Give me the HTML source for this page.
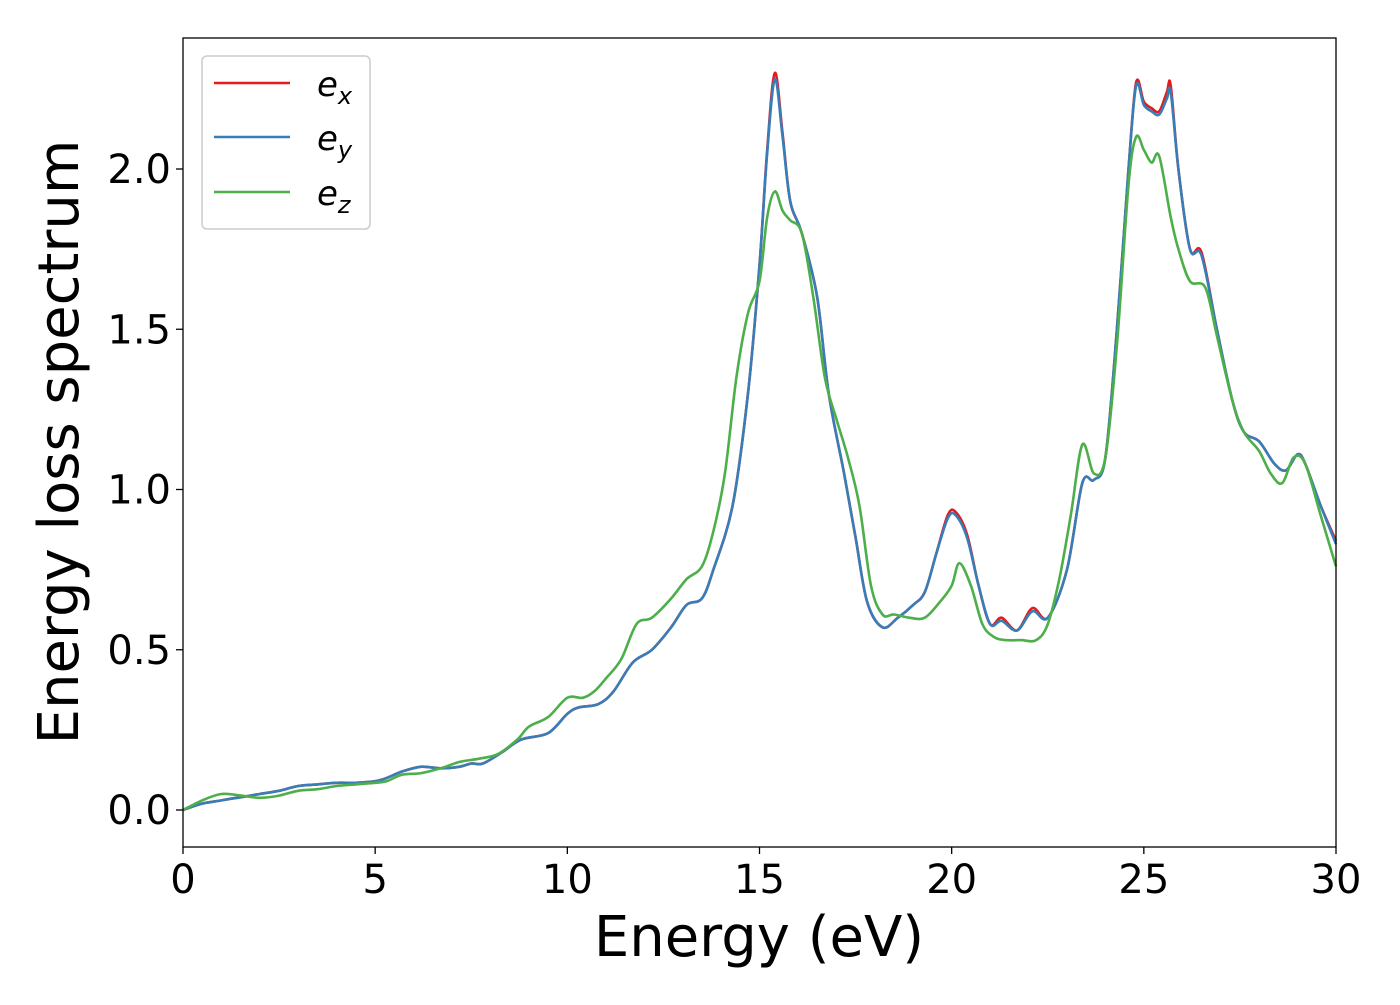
<!DOCTYPE html>
<html><head><meta charset="utf-8"><style>
body{margin:0;background:#fff;}
svg text{font-family:"DejaVu Sans","Liberation Sans",sans-serif;}
</style></head><body>
<svg id="chart" width="1400" height="1000" xmlns="http://www.w3.org/2000/svg">
<rect width="1400" height="1000" fill="#fff"/>
<g id="plot"></g>
<g id="axes"></g>
<text x="759" y="956" font-size="56" text-anchor="middle">Energy (eV)</text>
<text transform="translate(78,442) rotate(-90)" font-size="56" text-anchor="middle">Energy loss spectrum</text>
<g>
<rect x="202" y="56" width="168" height="173" rx="5" fill="#fff" stroke="#ccc" stroke-width="1.5"/>
<line x1="214" y1="83" x2="290" y2="83" stroke="#e41a1c" stroke-width="2.5"/>
<line x1="214" y1="137" x2="290" y2="137" stroke="#377eb8" stroke-width="2.5"/>
<line x1="214" y1="192" x2="290" y2="192" stroke="#4daf4a" stroke-width="2.5"/>
<text x="317" y="96" font-size="34" font-style="italic">e<tspan font-size="24" dy="8">x</tspan></text>
<text x="317" y="150" font-size="34" font-style="italic">e<tspan font-size="24" dy="8">y</tspan></text>
<text x="317" y="205" font-size="34" font-style="italic">e<tspan font-size="24" dy="8">z</tspan></text>
</g>
</svg>
<script>
const energyEx=[0,0.5,1,1.5,2,2.5,3,3.5,4,4.5,5,5.3,5.7,6.2,6.7,7.2,7.5,7.8,8.3,8.8,9.5,10,10.3,10.8,11.2,11.7,12.2,12.7,13.1,13.5,13.8,14.3,14.7,15,15.2,15.4,15.6,15.8,16.1,16.5,16.8,17.2,17.5,17.8,18.2,18.6,19,19.3,19.6,19.9,20.1,20.4,20.7,21,21.3,21.7,22.1,22.5,23,23.4,23.7,24,24.3,24.6,24.8,25,25.2,25.4,25.6,25.7,25.9,26.2,26.5,26.9,27.3,27.6,28,28.4,28.7,29,29.2,29.6,30];
const valuesEy=[0,0.02,0.03,0.04,0.05,0.06,0.075,0.08,0.085,0.085,0.09,0.1,0.12,0.135,0.13,0.135,0.145,0.145,0.18,0.22,0.24,0.3,0.32,0.33,0.37,0.46,0.5,0.57,0.64,0.66,0.75,0.95,1.3,1.7,2.05,2.28,2.1,1.9,1.8,1.6,1.3,1.05,0.85,0.65,0.57,0.6,0.64,0.68,0.8,0.91,0.92,0.85,0.7,0.58,0.59,0.56,0.62,0.6,0.75,1.02,1.03,1.1,1.5,2.0,2.26,2.2,2.18,2.17,2.22,2.24,2.0,1.75,1.73,1.5,1.28,1.18,1.15,1.08,1.06,1.11,1.08,0.95,0.83];
const valuesEx=[0,0.02,0.03,0.04,0.05,0.06,0.075,0.08,0.085,0.085,0.09,0.1,0.12,0.135,0.13,0.135,0.145,0.145,0.18,0.22,0.24,0.3,0.32,0.33,0.37,0.46,0.5,0.57,0.64,0.66,0.75,0.95,1.3,1.7,2.06,2.3,2.11,1.9,1.8,1.6,1.3,1.05,0.85,0.65,0.57,0.6,0.64,0.68,0.8,0.92,0.93,0.86,0.7,0.58,0.6,0.56,0.63,0.6,0.75,1.02,1.03,1.1,1.5,2.0,2.27,2.21,2.19,2.18,2.24,2.26,2.0,1.75,1.74,1.5,1.28,1.18,1.15,1.08,1.06,1.11,1.08,0.95,0.84];
const energyEz=[0,0.5,1,1.5,2,2.5,3,3.5,4,4.5,5,5.3,5.7,6.2,6.7,7.2,7.7,8.2,8.7,9,9.5,10,10.4,10.7,11,11.4,11.8,12.2,12.7,13.1,13.5,13.8,14.1,14.4,14.7,15,15.2,15.4,15.6,15.8,16.1,16.4,16.7,17,17.3,17.6,17.9,18.2,18.5,18.9,19.3,19.7,20,20.2,20.5,20.8,21.1,21.4,21.8,22.2,22.5,22.8,23.1,23.4,23.7,24,24.3,24.6,24.8,25,25.2,25.4,25.7,25.9,26.2,26.6,26.9,27.3,27.6,28,28.3,28.6,28.9,29.2,29.6,30];
const valuesEz=[0,0.03,0.05,0.045,0.038,0.045,0.06,0.065,0.075,0.08,0.085,0.09,0.11,0.115,0.13,0.15,0.16,0.175,0.22,0.26,0.29,0.35,0.35,0.37,0.41,0.47,0.58,0.6,0.66,0.72,0.76,0.87,1.05,1.35,1.55,1.65,1.85,1.93,1.87,1.84,1.8,1.6,1.35,1.22,1.1,0.95,0.7,0.61,0.61,0.6,0.6,0.65,0.7,0.77,0.7,0.58,0.54,0.53,0.53,0.53,0.58,0.72,0.92,1.14,1.05,1.1,1.45,1.95,2.1,2.06,2.02,2.04,1.85,1.75,1.65,1.63,1.48,1.28,1.18,1.12,1.05,1.02,1.1,1.08,0.92,0.76];
const xTicks=[0,5,10,15,20,25,30];
const yTicks=[0,0.5,1,1.5,2];
const yTickLabels=["0.0","0.5","1.0","1.5","2.0"];
const X0=183,X1=1336,Y0=847,Y1=38;
const xs=v=>X0+(v-0)/30*(X1-X0);
const ys=v=>810-v*320.5;
const NS="http://www.w3.org/2000/svg";
function path(xv,yv){
  const p=xv.map((x,i)=>[xs(x),ys(yv[i])]);
  let d="M"+p[0][0].toFixed(1)+","+p[0][1].toFixed(1);
  for(let i=0;i<p.length-1;i++){
    const a=p[Math.max(0,i-1)],b=p[i],c=p[i+1],e=p[Math.min(p.length-1,i+2)];
    const c1=[b[0]+(c[0]-a[0])/6,b[1]+(c[1]-a[1])/6],c2=[c[0]-(e[0]-b[0])/6,c[1]-(e[1]-b[1])/6];
    d+=`C${c1[0].toFixed(1)},${c1[1].toFixed(1)} ${c2[0].toFixed(1)},${c2[1].toFixed(1)} ${c[0].toFixed(1)},${c[1].toFixed(1)}`;
  }
  return d;
}
const plot=document.getElementById('plot');
const series=[[energyEx,valuesEx,'#e41a1c','line-ex'],[energyEx,valuesEy,'#377eb8','line-ey'],[energyEz,valuesEz,'#4daf4a','line-ez']];
series.forEach(s=>{
  const el=document.createElementNS(NS,'path');
  el.setAttribute('d',path(s[0],s[1]));
  el.setAttribute('fill','none');el.setAttribute('stroke',s[2]);el.setAttribute('stroke-width','2.6');
  
  
  plot.appendChild(el);
});
const axes=document.getElementById('axes');
const frame=document.createElementNS(NS,'rect');
frame.setAttribute('x',X0);frame.setAttribute('y',Y1);frame.setAttribute('width',X1-X0);frame.setAttribute('height',Y0-Y1);
frame.setAttribute('fill','none');frame.setAttribute('stroke','#000');frame.setAttribute('stroke-width','1.3');


axes.appendChild(frame);
xTicks.forEach(t=>{
  const l=document.createElementNS(NS,'line');
  l.setAttribute('x1',xs(t));l.setAttribute('x2',xs(t));l.setAttribute('y1',Y0);l.setAttribute('y2',Y0+7);l.setAttribute('stroke','#000');l.setAttribute('stroke-width','1.3');
  
  
  axes.appendChild(l);
  const tx=document.createElementNS(NS,'text');
  tx.setAttribute('x',xs(t));tx.setAttribute('y',893);tx.setAttribute('font-size','40');tx.setAttribute('text-anchor','middle');
  tx.textContent=String(t);
  
  
  axes.appendChild(tx);
});
yTicks.forEach((t,i)=>{
  const l=document.createElementNS(NS,'line');
  l.setAttribute('x1',X0-7);l.setAttribute('x2',X0);l.setAttribute('y1',ys(t));l.setAttribute('y2',ys(t));l.setAttribute('stroke','#000');l.setAttribute('stroke-width','1.3');
  
  
  axes.appendChild(l);
  const tx=document.createElementNS(NS,'text');
  tx.setAttribute('x',171);tx.setAttribute('y',ys(t)+14);tx.setAttribute('font-size','40');tx.setAttribute('text-anchor','end');
  tx.textContent=yTickLabels[i];
  
  
  axes.appendChild(tx);
});
</script>
</body></html>
